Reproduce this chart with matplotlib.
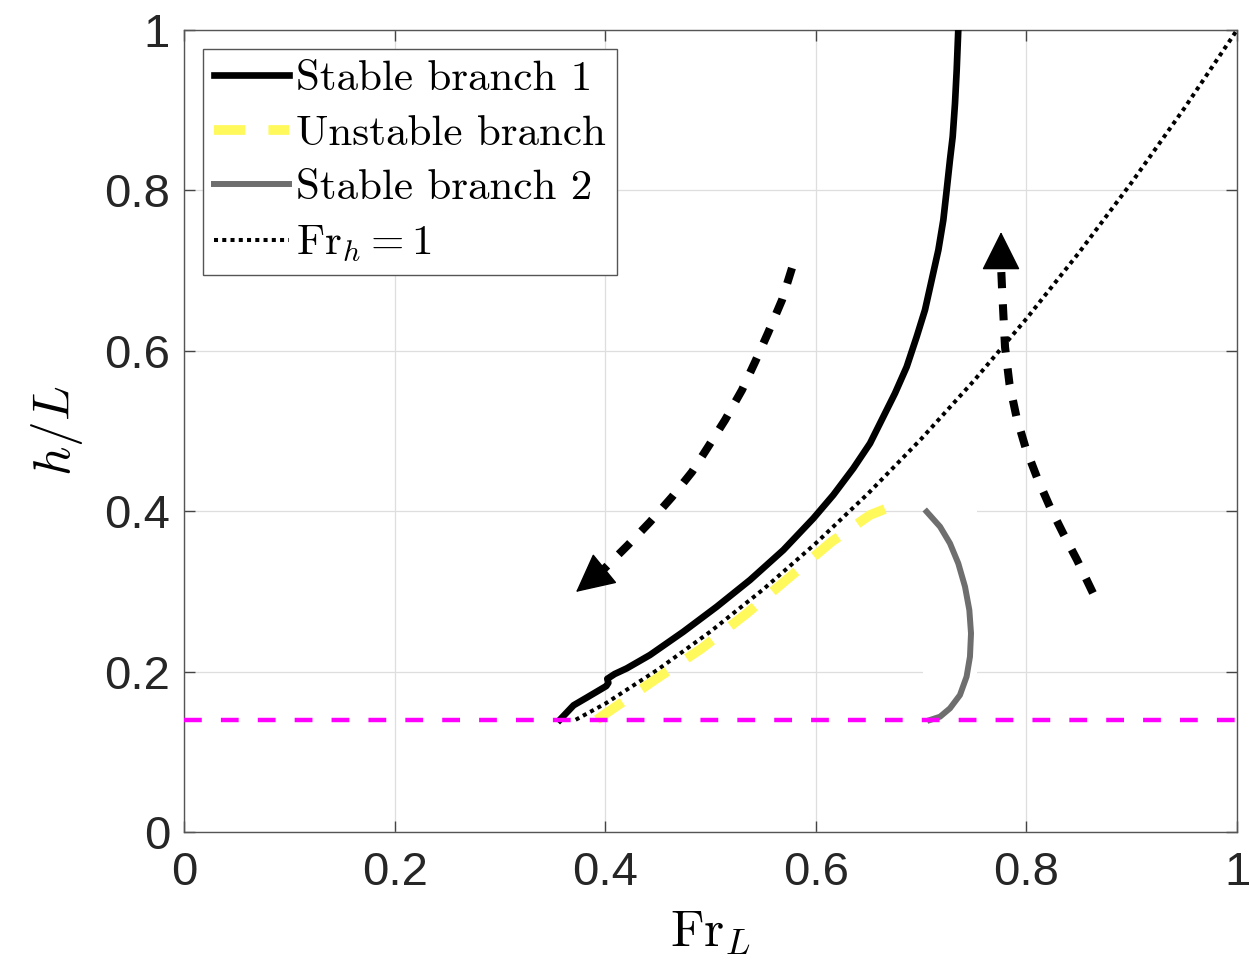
import numpy as np
import matplotlib
matplotlib.use("Agg")
import matplotlib.pyplot as plt
from matplotlib.patches import Rectangle
from matplotlib.font_manager import FontProperties

plt.rcParams.update({
    "font.family": ["Liberation Sans", "DejaVu Sans"],
    "mathtext.fontset": "cm",
})

# stable branch 1 (solid black)
fr1 = [0.357, 0.370, 0.383, 0.401, 0.403, 0.402, 0.409, 0.4204, 0.4425, 0.4742, 0.5059,
       0.5375, 0.5692, 0.5977, 0.6166, 0.6356, 0.6515, 0.661, 0.6752, 0.6863, 0.6958,
       0.7037, 0.710, 0.7164, 0.7211, 0.7243, 0.7274, 0.730, 0.7322, 0.7338, 0.7353]
h1 = [0.140, 0.158, 0.168, 0.182, 0.186, 0.191, 0.197, 0.2040, 0.2207, 0.2497, 0.2809,
      0.3142, 0.3516, 0.3911, 0.4202, 0.4534, 0.4846, 0.5096, 0.547, 0.580, 0.6176,
      0.651, 0.688, 0.7257, 0.763, 0.8005, 0.838, 0.867, 0.9086, 0.950, 1.0]

# unstable branch (yellow dashed)
fru = [0.392, 0.4489, 0.4915, 0.5342, 0.5755, 0.615, 0.6515, 0.670]
hu = [0.140, 0.1914, 0.2288, 0.2724, 0.3183, 0.362, 0.3953, 0.405]

# stable branch 2 (grey)
fr2 = [0.7053, 0.718, 0.7274, 0.7353, 0.7417, 0.7458, 0.7474, 0.7464, 0.7432,
       0.7369, 0.7274, 0.718, 0.7085]
h2 = [0.3994, 0.3807, 0.360, 0.335, 0.3059, 0.2768, 0.2477, 0.2186, 0.1937,
      0.1708, 0.1542, 0.1438, 0.1397]

# Fr_h = 1 curve (dotted)
frc = [0.372, 0.40, 0.45, 0.50, 0.55, 0.60, 0.65, 0.70, 0.75, 0.80, 0.85, 0.90, 0.95, 1.0]
hc = [0.140, 0.160, 0.2025, 0.250, 0.3025, 0.360, 0.4225, 0.490, 0.5625, 0.640, 0.7225, 0.810, 0.9025, 1.0]

h_min = 0.14

# direction arrows: dashed path then tip
arr_l_x = [0.5774, 0.5679, 0.5546, 0.5423, 0.5299, 0.5138, 0.4976, 0.4824, 0.4634, 0.4425, 0.4217, 0.3979]
arr_l_y = [0.7032, 0.6633, 0.6222, 0.5860, 0.5511, 0.5137, 0.4800, 0.4489, 0.4177, 0.3865, 0.3579, 0.3267]
tip_l = (0.3723, 0.2993)
arr_r_x = [0.8632, 0.8481, 0.8350, 0.8224, 0.8101, 0.7990, 0.7905, 0.7840, 0.7797, 0.7768, 0.7759]
arr_r_y = [0.2980, 0.3392, 0.3720, 0.4052, 0.4420, 0.4800, 0.5180, 0.5580, 0.6047, 0.6796, 0.7070]
tip_r = (0.7759, 0.7481)

ticks = [0, 0.2, 0.4, 0.6, 0.8, 1]
tick_lbl = ["0", "0.2", "0.4", "0.6", "0.8", "1"]

fig = plt.figure(figsize=(12.49, 9.65), dpi=100)
ax = fig.add_axes([0.1473, 0.1378, 0.8431, 0.8311])

ax.set_xlim(0, 1)
ax.set_ylim(0, 1)
ax.set_xticks(ticks)
ax.set_yticks(ticks)
ax.set_xticklabels(tick_lbl)
ax.set_yticklabels(tick_lbl)
ax.grid(True, color="#dedede", lw=0.9)
ax.set_axisbelow(True)
ax.tick_params(direction="in", length=8, width=1.0, top=True, right=True,
               labelsize=34, labelcolor="#262626", color="#444444", pad=10)
ax.tick_params(axis="x", pad=14)
for s in ax.spines.values():
    s.set_color("#555555")
    s.set_linewidth(1.0)

# white patch behind branch 2
ax.add_patch(Rectangle((0.702, 0.15), 0.051, 0.27, facecolor="white", edgecolor="none", zorder=1))

lc, = ax.plot(frc, hc, color="k", lw=2.9, dashes=(1.0, 1.05), label=r"$\mathrm{Fr}_h = 1$", zorder=2)
l1, = ax.plot(fr1, h1, color="k", lw=4.8, label="Stable branch 1", zorder=3)
lu, = ax.plot(fru, hu, color="#fff95b", lw=7.0, dashes=(3.2, 2.4), label="Unstable branch", zorder=3)
l2, = ax.plot(fr2, h2, color="#6e6e6e", lw=4.3, label="Stable branch 2", zorder=3)
ax.axhline(h_min, color="#ff00ff", lw=3.2, dashes=(4.0, 4.3), zorder=4)

# arrows
for xs, ys, tip in [(arr_l_x, arr_l_y, tip_l), (arr_r_x, arr_r_y, tip_r)]:
    ax.plot(xs, ys, color="k", lw=5.8, dashes=(2.0, 2.0), zorder=5)
    ax.annotate("", xy=tip, xytext=(xs[-1], ys[-1]),
                arrowprops=dict(arrowstyle="-|>,head_length=0.4,head_width=0.2",
                                mutation_scale=63, color="k", lw=1,
                                shrinkA=0, shrinkB=0), zorder=6)

leg = ax.legend(handles=[l1, lu, l2, lc], loc="upper left",
                prop=FontProperties(family="cmr10", size=31),
                frameon=True, fancybox=False, framealpha=1, edgecolor="#555555",
                handlelength=1.75, handletextpad=0.15, labelspacing=0.38,
                borderpad=0.25, borderaxespad=0.45)
leg.get_frame().set_linewidth(1.0)

ax.set_xlabel(r"$\mathrm{Fr}_L$", fontsize=37, labelpad=9)
ax.set_ylabel(r"$h/L$", fontsize=37, labelpad=14)

fig.savefig("out.png", dpi=100, facecolor="white")
